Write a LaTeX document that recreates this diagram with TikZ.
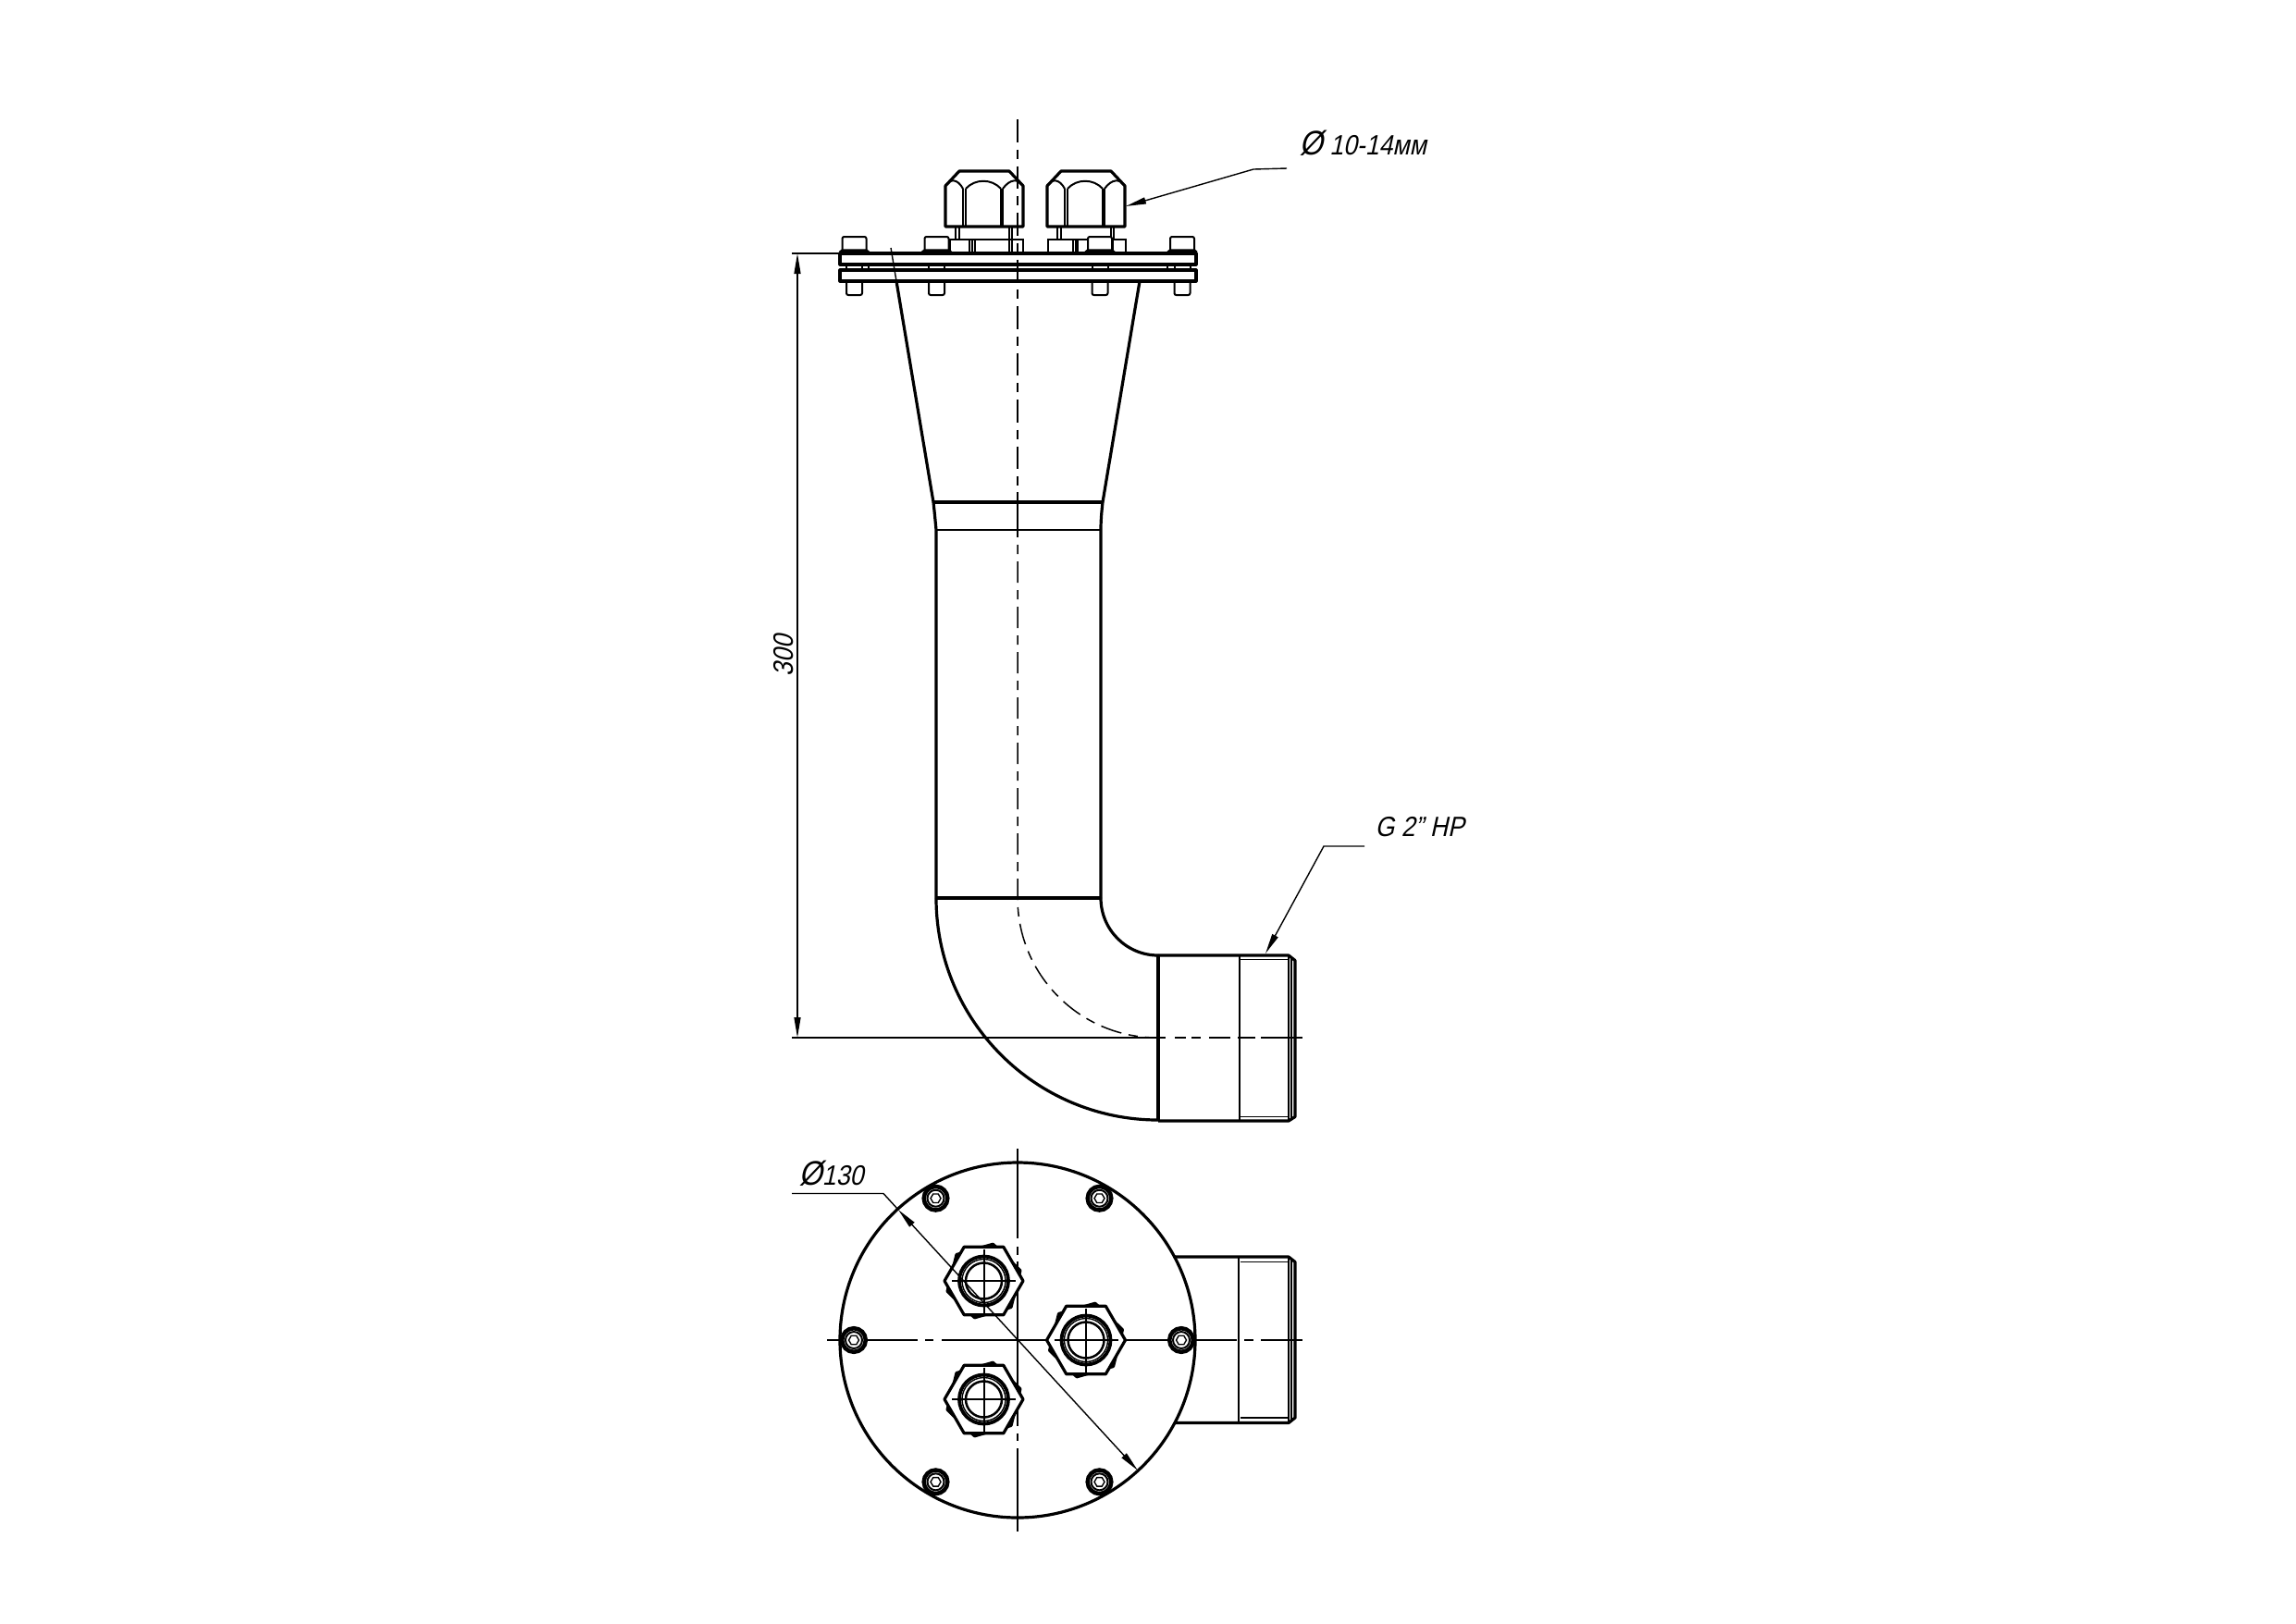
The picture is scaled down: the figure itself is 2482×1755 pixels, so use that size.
\documentclass[tikz,border=0pt]{standalone}
\usepackage{fontspec}
\setmainfont{Liberation Sans}[FakeStretch=0.88,FakeSlant=0.22]
\usetikzlibrary{arrows.meta}

\tikzset{
    mainline/.style={line width=0.32mm, line join=round},
    midline/.style={line width=0.2mm},
    thinline/.style={line width=0.14mm},
    axisline/.style={line width=0.15mm},
    axisdash/.style={axisline, dash pattern=on 2.45mm off 0.8mm on 1mm off 0.8mm},
    dimarrow/.style={{Triangle[length=2.2mm,width=0.7mm]}-{Triangle[length=2.2mm,width=0.7mm]}},
    dimtext/.style={inner sep=0pt, font=\fontsize{8.6}{10}\selectfont}
}

% diameter sign, a little larger than the digits
\newcommand{\diamsign}{{\fontsize{10.5}{10}\selectfont Ø}}

% hexagon round the local origin
\newcommand{\hexpath}[1]{(0:#1) -- (60:#1) -- (120:#1) -- (180:#1) -- (240:#1) -- (300:#1) -- cycle}

% gland seen from the side, #1 = left edge of the cap
\newcommand{\glandside}[1]{
    \begin{scope}[shift={(#1,0)}]
        \draw[mainline, fill=white] (0,245) -- (0,201) -- (15,185) -- (69,185) -- (84,201) -- (84,245) -- cycle;
        \draw[midline] (19,204) -- (19,245) (22,204) -- (22,245) (60,204) -- (60,245) (62,204) -- (62,245);
        \draw[midline] (0,201) .. controls (5,193) and (13,193) .. (19,204);
        \draw[midline] (22,204) .. controls (32,193) and (50,193) .. (60,204);
        \draw[midline] (62,204) .. controls (70,193) and (79,193) .. (84,201);
        \draw[midline] (11,245) -- (11,259) (15,245) -- (15,259) (69,245) -- (69,259) (72,245) -- (72,259);
    \end{scope}
}

% gland seen from above
\newcommand{\glandtop}[2]{
    \begin{scope}[shift={(#1,#2)}]
        \draw[mainline, fill=white, rotate=16] \hexpath{41};
        \draw[mainline, fill=white] \hexpath{42.5};
        \draw[line width=0.38mm] (0,0) circle[radius=26.5];
        \draw[thinline] (0,0) circle[radius=23.5];
        \draw[line width=0.25mm] (0,0) circle[radius=19.5];
        \draw[midline] (-34.5,0) -- (34.5,0) (0,-34.5) -- (0,34.5);
    \end{scope}
}

% bolt seen from above
\newcommand{\bolttop}[2]{
    \begin{scope}[shift={(#1,#2)}]
        \draw[line width=0.45mm, fill=white] (0,0) circle[radius=12.8];
        \draw[midline] (0,0) circle[radius=9];
        \draw[thinline] \hexpath{5.5};
    \end{scope}
}

% bolt seen from the side, #1 = middle
\newcommand{\boltside}[1]{
    \begin{scope}[shift={(#1,0)}]
        \draw[midline, rounded corners=0.2mm, fill=white] (-13,274) -- (-13,256) -- (13,256) -- (13,274);
        \draw[mainline] (-15.5,273) -- (-13,271) -- (13,271) -- (15.5,273);
        \draw[midline] (-8.5,286) -- (-8.5,292) (8.5,286) -- (8.5,292);
        \draw[midline, rounded corners=0.2mm] (-8.5,304) -- (-8.5,319) -- (8.5,319) -- (8.5,304);
    \end{scope}
}

\begin{document}
\begin{tikzpicture}[x=0.1mm, y=-0.1mm]
\useasboundingbox (0,0) rectangle (2482,1755);

% side view
\draw[midline] (1027,274) -- (1027,259) -- (1106,259) -- (1106,274);
\draw[midline] (1048,259) -- (1048,274) (1051,259) -- (1051,274) (1054,259) -- (1054,274) (1091,259) -- (1091,274) (1094,259) -- (1094,274);
\draw[midline] (1133,274) -- (1133,259) -- (1217,259) -- (1217,274);
\draw[midline] (1160,259) -- (1160,274) (1163,259) -- (1163,274) (1165,259) -- (1165,274) (1203,259) -- (1203,274);
\glandside{1022}
\glandside{1132}
\foreach \boltx in {923.5,1012.5,1189,1278} {
    \boltside{\boltx}
}
\draw[midline] (939,286) -- (939,292) (1262,286) -- (1262,292);
\draw[mainline] (908,274) rectangle (1293,286);
\draw[mainline] (908,292) rectangle (1293,304);

\draw[thinline] (963,268) -- (969,304);
\draw[mainline] (969,304) -- (1009,543) .. controls (1010,552) and (1011,562) .. (1012,573) -- (1012,971);
\draw[mainline] (1232,304) -- (1192,543) .. controls (1191,552) and (1190,562) .. (1190,573) -- (1190,971);
\draw[mainline] (1009,543) -- (1192,543);
\draw[midline] (1012,573) -- (1190,573);
\draw[mainline] (1012,971) -- (1190,971);
\draw[mainline] (1012,971) arc[start angle=180, end angle=90, radius=240];
\draw[mainline] (1190,971) arc[start angle=180, end angle=90, radius=62];

\draw[mainline] (1252,1033) -- (1393,1033) -- (1400,1038.5) -- (1400,1207.5) -- (1393,1212) -- (1252,1212);
\draw[line width=0.35mm] (1252,1033) -- (1252,1212);
\draw[midline] (1340,1033) -- (1340,1212);
\draw[thinline] (1340,1037.5) -- (1393,1037.5) (1340,1207.5) -- (1393,1207.5);
\draw[midline] (1393,1033) -- (1393,1212) (1396,1036) -- (1396,1210);

% axes of the side view
\draw[axisdash] (1100,129) -- (1100,532);
\draw[axisline] (1100,532) -- (1100,581);
\draw[axisline, dash pattern=on 1mm off 0.8mm on 2.3mm off 0.8mm] (1100,589) -- (1100,971) arc[start angle=180, end angle=90, radius=151];
\foreach \xa/\xb in {1252/1260,1270/1282,1288/1298,1307/1330,1338/1357,1363/1408} {
    \draw[axisline] (\xa,1122) -- (\xb,1122);
}

% plan view
\draw[mainline] (1270,1359) -- (1393,1359) -- (1400,1364.5) -- (1400,1533) -- (1393,1538.5) -- (1270,1538.5);
\draw[midline] (1339,1359) -- (1339,1538.5);
\draw[thinline] (1341,1364.5) -- (1393,1364.5) (1341,1533) -- (1393,1533);
\draw[midline] (1393,1359) -- (1393,1538.5) (1395.5,1361) -- (1395.5,1536.5);
\draw[mainline, fill=white] (1100,1449) circle[radius=192];

\foreach \xa/\xb in {894/992,1000/1009,1018/1337,1345/1355,1363/1408} {
    \draw[axisline] (\xa,1449) -- (\xb,1449);
}
\foreach \ya/\yb in {1242/1339,1348/1357,1364/1542,1550/1558,1566/1656} {
    \draw[axisline] (1100,\ya) -- (1100,\yb);
}

\foreach \boltx/\bolty in {923/1449,1277/1449,1011.5/1295.7,1188.5/1295.7,1011.5/1602.3,1188.5/1602.3} {
    \bolttop{\boltx}{\bolty}
}
\glandtop{1063.5}{1385}
\glandtop{1174}{1449}
\glandtop{1063.5}{1513}

% dimensions
\coordinate (heighttop) at (862,274);
\coordinate (heightbottom) at (862,1122);
\coordinate (heightfoot) at (1252,1122);
\coordinate (flangeedge) at (908,274);
\draw[thinline] (856,274) -- (flangeedge);
\draw[thinline] (856,1122) -- (heightfoot);
\draw[thinline, dimarrow] (heighttop) -- (heightbottom);
\node[dimtext, rotate=90, anchor=base] (heightlabel) at (857,709) {300};

\coordinate (cabletip) at (1217,223);
\coordinate (cableknee) at (1355,183);
\coordinate (cableend) at (1391,182);
\draw[thinline, {Triangle[length=2.2mm,width=0.7mm]}-] (cabletip) -- (cableknee) -- (cableend);
\node[dimtext, anchor=base west] (cablelabel) at (1404,167) {\diamsign\ 10-14мм};

\coordinate (threadtip) at (1368,1031);
\coordinate (threadknee) at (1431,915);
\coordinate (threadend) at (1475,915);
\draw[thinline, {Triangle[length=2.2mm,width=0.7mm]}-] (threadtip) -- (threadknee) -- (threadend);
\node[dimtext, anchor=base west] (threadlabel) at (1486,904) {G 2" НР};

\coordinate (diamstart) at (856,1290.5);
\coordinate (diamknee) at (955,1290.5);
\coordinate (diamtip) at (971,1308);
\coordinate (diamfoot) at (1230,1590);
\draw[thinline] (diamstart) -- (diamknee) -- (diamtip);
\draw[thinline, dimarrow] (diamtip) -- (diamfoot);
\node[dimtext, anchor=base west] (diamlabel) at (863,1281) {\diamsign 130};
\end{tikzpicture}
\end{document}
